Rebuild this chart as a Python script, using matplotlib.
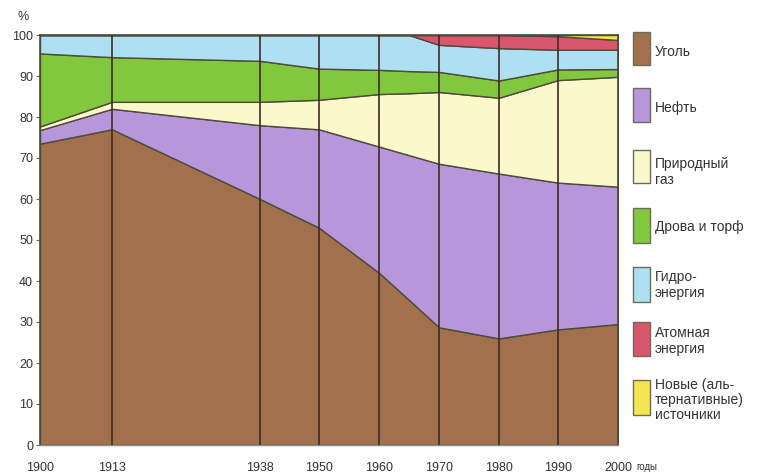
import matplotlib
matplotlib.use("Agg")
import matplotlib.pyplot as plt
from matplotlib.patches import Rectangle
import numpy as np

plt.rcParams['font.family'] = ['Liberation Sans Narrow', 'Liberation Sans', 'DejaVu Sans']

# Data (shares, %)
years = [1900, 1913, 1938, 1950, 1960, 1965, 1970, 1980, 1990, 2000]
tick_years = [1900, 1913, 1938, 1950, 1960, 1970, 1980, 1990, 2000]
coal    = [73.5, 77.0, 60.0, 53.0, 42.0, 35.4, 28.7, 26.0, 28.2, 29.5]
oil     = [3.3, 5.0, 18.0, 24.0, 30.8, 35.3, 39.9, 40.2, 35.8, 33.5]
gas     = [0.9, 1.7, 5.7, 7.2, 12.8, 15.1, 17.5, 18.5, 25.0, 26.8]
wood    = [17.8, 10.9, 10.0, 7.6, 5.9, 5.4, 4.9, 4.2, 2.6, 1.9]
hydro   = [4.5, 5.4, 6.3, 8.2, 8.5, 8.8, 6.6, 7.9, 4.8, 4.7]
nuclear = [0, 0, 0, 0, 0, 0, 2.4, 3.2, 3.3, 2.4]
alt     = [0, 0, 0, 0, 0, 0, 0, 0, 0.3, 1.2]

labels = ['Уголь', 'Нефть', 'Природный\nгаз', 'Дрова и торф',
          'Гидро-\nэнергия', 'Атомная\nэнергия', 'Новые (аль-\nтернативные)\nисточники']
colors = ['#A0714C', '#B896DC', '#FBF8CC', '#82C83E', '#AEDFF2', '#DA566E', '#F3E650']

# The original time axis is drawn unevenly; reproduce it with a piecewise scale
axis_frac = np.array([0, 72, 220, 279, 339, 399, 459, 518, 578]) / 578.0
def fwd(x):
    return np.interp(x, tick_years, axis_frac)
def inv(u):
    return np.interp(u, axis_frac, tick_years)

fig = plt.figure(figsize=(7.58, 4.74), dpi=100)
ax = fig.add_axes([40/758, 1 - 445/474, (618-40)/758, (445-35)/474])
ax.set_xscale('function', functions=(fwd, inv))

ax.stackplot(years, coal, oil, gas, wood, hydro, nuclear, alt,
             colors=colors, edgecolor='#4d4a3a', linewidth=1.0)

for y in tick_years[1:-1]:
    ax.axvline(y, color='#3e2c22', lw=1.4, alpha=0.85, zorder=5)

ax.set_xlim(1900, 2000)
ax.set_ylim(0, 100)
ax.set_yticks(range(0, 101, 10))
ax.set_xticks(tick_years)
ax.set_xticklabels([str(y) for y in tick_years])
ax.minorticks_off()
ax.tick_params(axis='y', length=3, width=0.8, color='#666666', labelsize=9, labelcolor='#333333', pad=2)
ax.tick_params(axis='x', length=0, labelsize=9, labelcolor='#333333', pad=12)
for s in ['left', 'right', 'top']:
    ax.spines[s].set_color('#4d4a3a')
    ax.spines[s].set_linewidth(1.2)
ax.spines['bottom'].set_color('#888888')
ax.spines['bottom'].set_linewidth(1.0)

fig.text(18/758, 1 - 17/474, '%', fontsize=9, color='#333333', va='center', ha='left')
fig.text(636/758, 1 - 467/474, 'годы', fontsize=7, color='#333333', va='center', ha='left')

# Legend
rects = [(32, 65), (88, 122), (150, 183), (208, 243), (267, 302), (322, 356), (380, 415)]
text_y = [52, 108, 172, 227, 285, 341, 400]
for (y0, y1), c, lab, ty in zip(rects, colors, labels, text_y):
    fig.patches.append(Rectangle((633/758, 1 - y1/474), 17/758, (y1-y0)/474,
                                 transform=fig.transFigure, facecolor=c,
                                 edgecolor='#6b6b5a', linewidth=1.0))
    fig.text(655/758, 1 - ty/474, lab, fontsize=10, color='#333333',
             family=['Liberation Sans', 'DejaVu Sans'],
             va='center', ha='left', linespacing=1.1)

fig.savefig('out.png', dpi=100, facecolor='white')
